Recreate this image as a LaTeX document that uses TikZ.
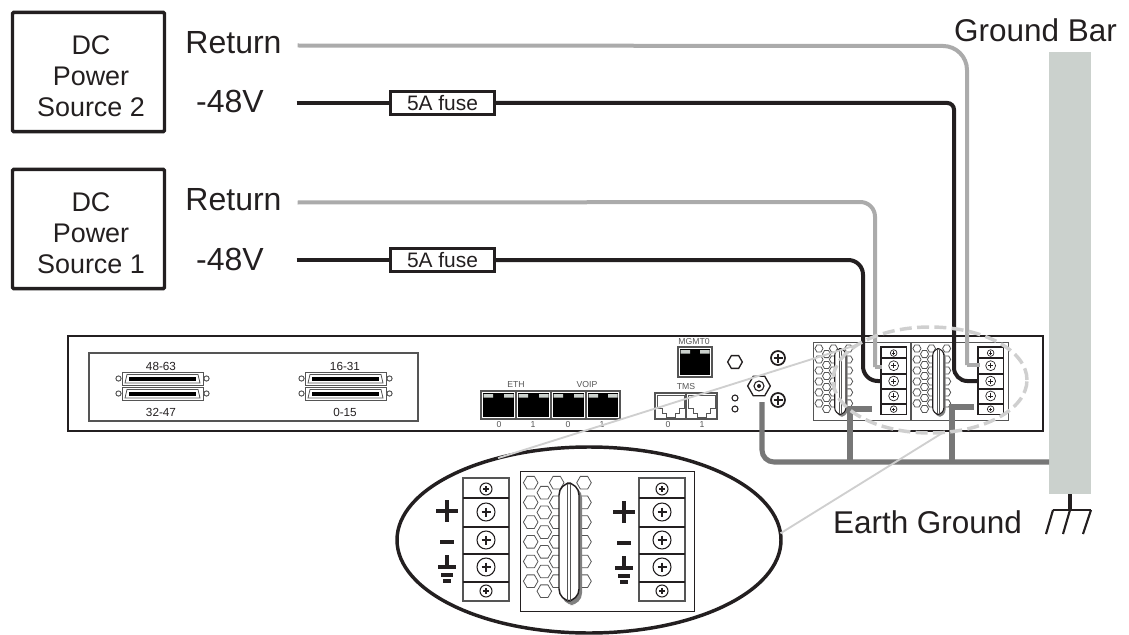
\documentclass[tikz,border=0pt]{standalone}
\usepackage{fontspec}
\setmainfont{Liberation Sans}
\usetikzlibrary{shapes.geometric}

\definecolor{inkdark}{HTML}{231F20}
\definecolor{barfill}{HTML}{CBD1CD}
\definecolor{retgray}{HTML}{ABABAB}
\definecolor{gndgray}{HTML}{777777}
\definecolor{leadgray}{HTML}{CFCFCF}
\definecolor{framegray}{HTML}{555555}

\tikzset{
  srcbox/.style={draw=inkdark,line width=2.6pt,rounded corners=1pt,minimum width=114pt,minimum height=89.5pt,inner sep=0},
  srctxt/.style={align=center,text=inkdark,inner sep=0,font=\fontsize{20.2}{23.2}\selectfont},
  retlbl/.style={text=inkdark,inner ysep=0,inner xsep=0,outer xsep=12pt,text height=17.3pt,text depth=5.7pt,font=\fontsize{24}{26}\selectfont},
  neglbl/.style={text=inkdark,inner ysep=0,inner xsep=0,outer xsep=24.7pt,text height=16.5pt,text depth=1.5pt,font=\fontsize{24}{26}\selectfont},
  plainlbl/.style={text=inkdark,inner sep=0,font=\fontsize{23.6}{26}\selectfont},
  fusebox/.style={draw=inkdark,line width=1.9pt,fill=white,minimum width=78pt,minimum height=17pt,inner sep=0,text=inkdark,font=\fontsize{15.7}{17}\selectfont},
  tinylbl/.style={text=inkdark,inner sep=0,font=\fontsize{8.8}{10}\selectfont},
  portlbl/.style={text=framegray,inner sep=0,font=\fontsize{6.5}{8}\selectfont},
  wireblk/.style={draw=inkdark,line width=3pt},
  wiregry/.style={draw=retgray,line width=3pt},
  wiregnd/.style={draw=gndgray,line width=3.8pt},
  leadline/.style={draw=leadgray,line width=1.4pt},
  hexline/.style={draw=framegray,line width=.6pt},
  gbar/.style={fill=barfill,minimum width=31.5pt,minimum height=331.5pt,inner sep=0,outer sep=0},
  nut/.style={regular polygon,regular polygon sides=6,draw=inkdark,line width=1pt,inner sep=0,outer sep=0}
}

% rear panel pieces, in local pixels
\newcommand{\screwpart}[3]{%
  \draw[inkdark,line width=#3] (\sx,\sy) circle[radius=#1];
  \draw[inkdark,line width=#3] (\sx-#2,\sy) -- (\sx+#2,\sy) (\sx,\sy-#2) -- (\sx,\sy+#2);
}
\newcommand{\termblk}[3]{%
  \draw[#1,fill=white] (0,0) rectangle (46,123);
  \foreach \ty in {20,49,76,104} \draw[#2] (0,\ty) -- (46,\ty);
  \def\sx{23}
  \foreach \sy/\sr in {11/6,34/9,62/9,89/9,113/6} {
    \screwpart{\sr}{\sr*.5}{#3}
  }
}
\newcommand{\hexpanel}[4]{%
  \draw[#4,fill=white] (0,0) rectangle (174,140);
  \foreach \hx in {10.7,36.7,64} \foreach \hk in {0,...,5}
    \draw[hexline] (\hx,11.7+19.7*\hk) ++(0:7.3) -- ++(120:7.3) -- ++(180:7.3) -- ++(240:7.3) -- ++(300:7.3) -- ++(0:7.3) -- cycle;
  \foreach \hk in {0,...,5}
    \draw[hexline] (24.3,21.7+19.7*\hk) ++(0:7.3) -- ++(120:7.3) -- ++(180:7.3) -- ++(240:7.3) -- ++(300:7.3) -- ++(0:7.3) -- cycle;
  \fill[gray,rounded corners=#1] (41.5,15) rectangle (62,134);
  \draw[inkdark,line width=#2,fill=white,rounded corners=#1] (39,12) rectangle (59,130);
  \draw[framegray,line width=#3] (47.5,12.5) -- (47.5,129.5) (50.5,12.5) -- (50.5,129.5);
}
\newcommand{\dsub}[2]{%
  \begin{scope}[shift={(#1,#2)}]
    \draw[framegray,line width=.7pt,fill=white] (0,0) rectangle (81,13);
    \draw[framegray,line width=.6pt] (5,2.5) -- (76,2.5) -- (78,11) -- (3,11) -- cycle;
    \fill[black] (7,4.6) rectangle (74,8.6);
    \draw[framegray,line width=.7pt,fill=white] (-3.5,6.5) circle[radius=2.6] (84.5,6.5) circle[radius=2.6];
  \end{scope}
}
\newcommand{\rjdark}[4]{%
  \begin{scope}[shift={(#1,#2)}]
    \draw[framegray,line width=.8pt,fill=white] (0,0) rectangle (#3,#4);
    \fill[black] (2,2) rectangle (#3-2,#4-2.5);
    \fill[barfill] (2.5,3) rectangle (12,6.5) (#3-12,3) rectangle (#3-2.5,6.5);
  \end{scope}
}
\newcommand{\rjlight}[2]{%
  \begin{scope}[shift={(#1,#2)}]
    \draw[framegray,line width=.7pt] (2,2) -- (29,2) -- (29,15) -- (24,15) -- (24,20) -- (20,20) -- (20,24) -- (11,24) -- (11,20) -- (7,20) -- (7,15) -- (2,15) -- cycle;
  \end{scope}
}
\newcommand{\polarity}[2]{%
  \begin{scope}[shift={(#1,#2)}]
    \draw[inkdark,line width=3pt] (-11,0) -- (11,0) (0,-11) -- (0,11);
    \draw[inkdark,line width=3pt] (-7,31) -- (7,31);
    \draw[inkdark,line width=3pt] (0,44) -- (0,55) (-9,56) -- (9,56);
    \draw[inkdark,line width=2.4pt] (-6,64) -- (6,64);
    \draw[inkdark,line width=2.4pt] (-4,70) -- (4,70);
  \end{scope}
}

\begin{document}
\begin{tikzpicture}[x=.75pt,y=-.75pt]
\useasboundingbox (0,0) rectangle (1129,635);

% sources and labels
\node[srcbox] (src2) at (88.5,72) {};
\node[srcbox] (src1) at (88.5,229) {};
\node[srctxt] (src2txt) at (91,76) {DC\\Power\\Source 2};
\node[srctxt] (src1txt) at (91,233) {DC\\Power\\Source 1};
\node[retlbl] (ret2) at (233.5,45.5) {Return};
\node[neglbl] (neg2) at (230,103) {-48V};
\node[retlbl] (ret1) at (233.5,202.5) {Return};
\node[neglbl] (neg1) at (230,260) {-48V};
\node[fusebox] (fuse2) at (442.5,103) {5A fuse};
\node[fusebox] (fuse1) at (442.5,260) {5A fuse};

% ground bar
\node[gbar] (bar) at (1070,273) {};
\node[plainlbl] (barlbl) at (1035.5,30) {Ground Bar};
\node[plainlbl] (earthlbl) at (927.5,522) {Earth Ground};
\coordinate (earthtop) at (1070,510);
\draw[inkdark,line width=3pt] (bar.south) -- (earthtop);
\draw[inkdark,line width=1.6pt] (1053,510) -- (1091,510);
\draw[inkdark,line width=1.6pt] (1053,510) -- (1046,534);
\draw[inkdark,line width=1.6pt] (earthtop) -- (1063,534);
\draw[inkdark,line width=1.6pt] (1091,510) -- (1083,534);

% chassis
\draw[inkdark,line width=1.9pt] (68,336) rectangle (1043,431);
\draw[framegray,line width=.8pt] (89,353) rectangle (418,421);
\dsub{122}{372}
\dsub{122}{387}
\dsub{305}{372}
\dsub{305}{387}
\node[tinylbl] (lbl4863) at (161,366) {48-63};
\node[tinylbl] (lbl3247) at (161,412) {32-47};
\node[tinylbl] (lbl1631) at (345,366) {16-31};
\node[tinylbl] (lbl015) at (345,412) {0-15};

\rjdark{481}{391}{35}{28}
\rjdark{516}{391}{35}{28}
\rjdark{551}{391}{35}{28}
\rjdark{586}{391}{34}{28}
\node[portlbl] (ethlbl) at (516,385) {ETH};
\node[portlbl] (voiplbl) at (587,385) {VOIP};
\node[portlbl] (eth0) at (499,425) {0};
\node[portlbl] (eth1) at (533,425) {1};
\node[portlbl] (voip0) at (568,425) {0};
\node[portlbl] (voip1) at (602,425) {1};

\rjdark{678}{347}{34}{30}
\node[portlbl] (mgmtlbl) at (694,342) {MGMT0};
\draw[framegray,line width=.8pt] (655,393) rectangle (717,419);
\draw[framegray,line width=.8pt] (686,393) -- (686,419);
\rjlight{655}{393}
\rjlight{686}{393}
\node[portlbl] (tmslbl) at (686,387) {TMS};
\node[portlbl] (tms0) at (668,425) {0};
\node[portlbl] (tms1) at (702,425) {1};

\node[nut,minimum size=11pt] (led) at (735,362) {};
\draw[inkdark,line width=.8pt] (735,398) circle[radius=3];
\draw[inkdark,line width=.8pt] (735,409) circle[radius=3];
\node[nut,minimum size=17pt] (coax) at (759,386) {};
\draw[inkdark,line width=.8pt] (759,386) circle[radius=5];
\fill[inkdark] (759,386) circle[radius=2];
\def\sx{778}
\def\sy{358}
\screwpart{7}{4.5}{1.3pt}
\def\sy{400}
\screwpart{7}{4.5}{1.3pt}

% power modules
\begin{scope}[shift={(813,342)},scale=.557]
  \hexpanel{5pt}{.8pt}{.3pt}{framegray,line width=.6pt}
\end{scope}
\begin{scope}[shift={(911,342)},scale=.557]
  \hexpanel{5pt}{.8pt}{.3pt}{framegray,line width=.6pt}
\end{scope}
\begin{scope}[shift={(881,347)},scale=.55]
  \termblk{inkdark,line width=1.2pt}{inkdark,line width=1.2pt}{.5pt}
\end{scope}
\begin{scope}[shift={(978,347)},scale=.55]
  \termblk{inkdark,line width=1.2pt}{inkdark,line width=1.2pt}{.5pt}
\end{scope}

% wiring
\coordinate (cret2a) at (967,46);
\coordinate (cret2b) at (967,365);
\coordinate (tret2) at (980,365);
\coordinate (cneg2a) at (954,103);
\coordinate (cneg2b) at (954,381);
\coordinate (tneg2) at (978,381);
\coordinate (cret1a) at (875,202);
\coordinate (cret1b) at (875,367);
\coordinate (tret1) at (882,367);
\coordinate (cneg1a) at (863,260);
\coordinate (cneg1b) at (863,381);
\coordinate (tneg1) at (881,381);
\draw[wiregry,rounded corners=18pt] (ret2.east) -- (cret2a) -- (cret2b);
\draw[wiregry] (cret2b) -- (tret2);
\draw[wireblk] (neg2.east) -- (fuse2.west);
\draw[wireblk] (fuse2.east) [rounded corners=5pt] -- (cneg2a) [rounded corners=10pt] -- (cneg2b) -- (tneg2);
\draw[wiregry,rounded corners=11pt] (ret1.east) -- (cret1a) -- (cret1b);
\draw[wiregry] (cret1b) -- (tret1);
\draw[wireblk] (neg1.east) -- (fuse1.west);
\draw[wireblk,rounded corners=11pt] (fuse1.east) -- (cneg1a) -- (cneg1b) -- (tneg1);

% ground wiring
\coordinate (gndstub) at (762,402);
\coordinate (cgnd) at (762,462);
\coordinate (jgnda) at (850,462);
\coordinate (jgndb) at (952,462);
\draw[wiregnd,rounded corners=9pt] (gndstub) -- (cgnd) -- (bar.west |- cgnd);
\draw[wiregnd] (jgnda) -- (850,409) -- (872,409);
\draw[wiregnd] (jgndb) -- (952,407) -- (974,407);

% dashed ring and leaders
\node[ellipse,draw=leadgray,line width=2.6pt,dash pattern=on 9pt off 4pt,minimum width=145.5pt,minimum height=79.5pt,inner sep=0,outer sep=0] (ring) at (930,380) {};
\node[ellipse,draw=inkdark,fill=white,line width=2.6pt,minimum width=288pt,minimum height=139.5pt,inner sep=0,outer sep=0] (zoomell) at (589,540) {};
\draw[leadline] (zoomell.138) -- (ring.154);
\draw[leadline] (zoomell.2.4) -- (ring.-76);

% enlarged module
\begin{scope}[shift={(520,471)}]
  \hexpanel{9pt}{1.1pt}{.4pt}{inkdark,line width=.7pt}
\end{scope}
\begin{scope}[shift={(463,478)}]
  \termblk{framegray,line width=.9pt}{inkdark,line width=1.3pt}{.8pt}
\end{scope}
\begin{scope}[shift={(639,478)}]
  \termblk{framegray,line width=.9pt}{inkdark,line width=1.3pt}{.8pt}
\end{scope}
\polarity{447}{511}
\polarity{624}{512}

\end{tikzpicture}
\end{document}
